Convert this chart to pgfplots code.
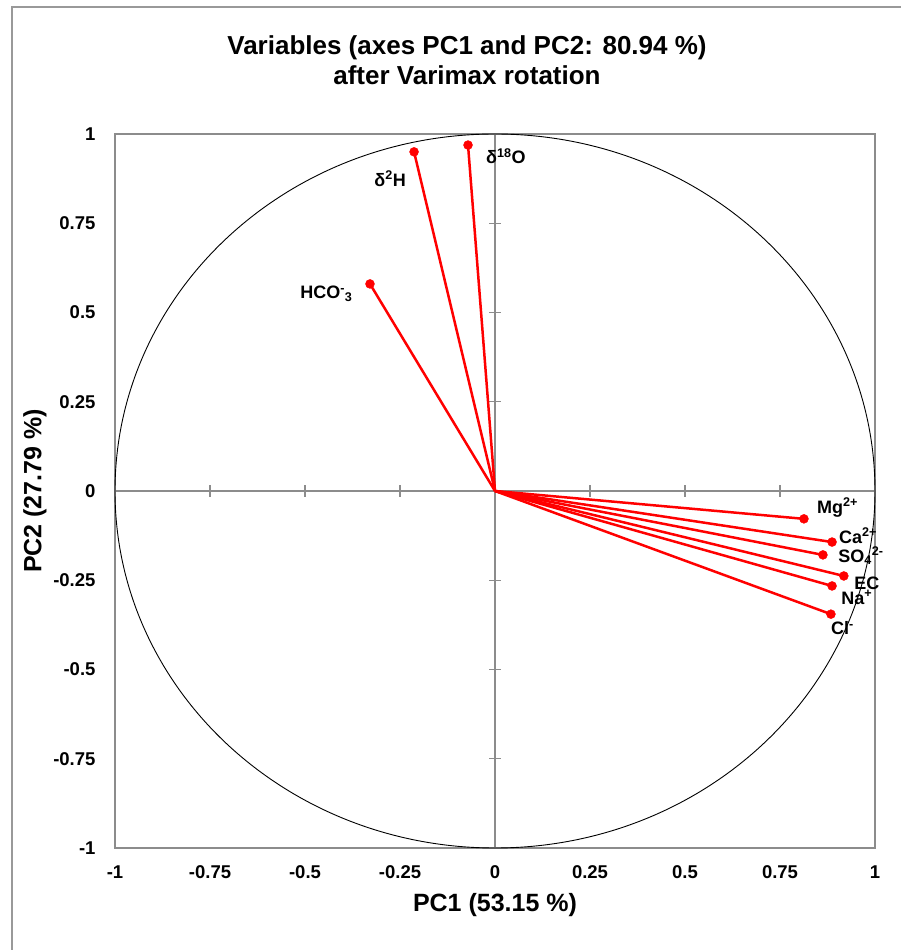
\documentclass[border=0pt]{standalone}
\usepackage{fontspec}
\setmainfont{Liberation Sans}
\usepackage{pgfplots}
\pgfplotsset{compat=1.18}
\usepackage{pgfplotstable}

\pgfplotstableread{
x y u v
0 0 -0.071 0.969
0 0 -0.213 0.950
0 0 -0.329 0.580
0 0 0.813 -0.078
0 0 0.887 -0.143
0 0 0.863 -0.179
0 0 0.918 -0.238
0 0 0.887 -0.266
0 0 0.884 -0.345
}\vectors

\begin{document}
\begin{tikzpicture}
\useasboundingbox (0pt,0pt) rectangle (900pt,950pt);
\draw[gray!80, line width=2pt] (12pt,-5pt) -- (12pt,943pt) -- (905pt,943pt);
\node[align=center, font=\fontsize{26}{30}\selectfont\bfseries] at (467pt,890pt) {Variables (axes PC1 and PC2: 80.94 \%)\\after Varimax rotation};
\node[font=\fontsize{25}{25}\selectfont\bfseries] at (495pt,45pt) {PC1 (53.15 \%)};
\node[rotate=90, font=\fontsize{25}{25}\selectfont\bfseries] at (35pt,459pt) {PC2 (27.79 \%)};
% middle cross axis
\begin{axis}[at={(115pt,102pt)}, anchor=south west, width=760pt, height=714pt, scale only axis,
  xmin=-1, xmax=1, ymin=-1, ymax=1, axis lines=middle,
  axis line style={-, draw=gray!90, line width=1.5pt},
  xtick={-0.75,-0.5,-0.25,0.25,0.5,0.75}, ytick={-0.75,-0.5,-0.25,0.25,0.5,0.75},
  xticklabels={}, yticklabels={}, tick align=center, major tick length=12pt,
  tick style={draw=gray!90, line width=1.3pt}]
\end{axis}
% main axis
\begin{axis}[at={(115pt,102pt)}, anchor=south west, width=760pt, height=714pt, scale only axis,
  xmin=-1, xmax=1, ymin=-1, ymax=1, clip=false,
  axis line style={draw=gray!90, line width=1.5pt},
  major tick length=0pt,
  xtick={-1,-0.75,-0.5,-0.25,0,0.25,0.5,0.75,1},
  ytick={-1,-0.75,-0.5,-0.25,0,0.25,0.5,0.75,1},
  xticklabels={-1,-0.75,-0.5,-0.25,0,0.25,0.5,0.75,1},
  yticklabels={-1,-0.75,-0.5,-0.25,0,0.25,0.5,0.75,1},
  ticklabel style={font=\fontsize{18.5}{18.5}\selectfont\bfseries},
  yticklabel style={xshift=-16pt},
  xticklabel style={yshift=-14pt}]
\draw[black, line width=0.9pt] (axis cs:0,0) ellipse [x radius=1, y radius=1];
\addplot[red, line width=2.5pt, quiver={u=\thisrow{u}, v=\thisrow{v}}] table[x=x, y=y] \vectors;
\addplot[only marks, mark=*, mark size=4.5pt, red] table[x=u, y=v] \vectors;
\begin{scope}[every node/.style={font=\fontsize{18}{18}\selectfont\bfseries, inner sep=0pt, anchor=base west}]
\node at (axis cs:-0.024,0.916) {δ\textsuperscript{18}O};
\node at (axis cs:-0.318,0.854) {δ\textsuperscript{2}H};
\node at (axis cs:-0.513,0.538) {HCO\textsuperscript{-}\textsubscript{3}};
\node at (axis cs:0.847,-0.062) {Mg\textsuperscript{2+}};
\node at (axis cs:0.905,-0.146) {Ca\textsuperscript{2+}};
\node at (axis cs:0.903,-0.199) {SO\textsubscript{4}\textsuperscript{2-}};
\node at (axis cs:0.945,-0.275) {EC};
\node at (axis cs:0.911,-0.317) {Na\textsuperscript{+}};
\node at (axis cs:0.884,-0.403) {Cl\textsuperscript{-}};
\end{scope}
\end{axis}
\end{tikzpicture}
\end{document}
